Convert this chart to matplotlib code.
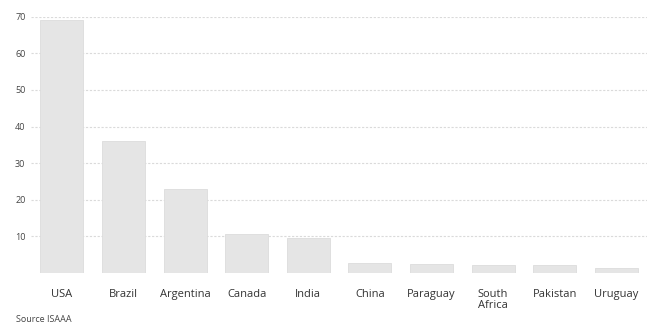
import matplotlib.pyplot as plt
import numpy as np

plt.rcParams['font.family'] = ['Open Sans', 'DejaVu Sans']

# GM crop area by country (million hectares)
countries = ['USA', 'Brazil', 'Argentina', 'Canada', 'India',
             'China', 'Paraguay', 'South\nAfrica', 'Pakistan', 'Uruguay']
area = [69.2, 36.0, 22.8, 10.5, 9.6, 2.6, 2.3, 2.2, 2.0, 1.3]
y_ticks = [10, 20, 30, 40, 50, 60, 70]

fig = plt.figure(figsize=(6.61, 3.24), dpi=100)
ax = fig.add_axes([0.047, 0.158, 0.932, 0.79])

x = np.arange(len(countries))
ax.grid(axis='y', color='#dadada', linestyle=(0, (2, 1.5)), linewidth=0.8, zorder=0)
ax.bar(x, area, width=0.7, color='#e5e5e5', edgecolor='#dcdcdc',
       linewidth=0.6, zorder=2)

ax.set_xlim(-0.5, len(countries) - 0.5)
ax.set_ylim(0, 70)
ax.set_yticks(y_ticks)
ax.set_yticklabels([str(v) for v in y_ticks], fontsize=6.5, color='#444444')
ax.set_xticks(x)
ax.set_xticklabels(countries, fontsize=8, color='#333333', linespacing=0.95)
ax.tick_params(axis='both', length=0)
ax.tick_params(axis='y', pad=4)
ax.tick_params(axis='x', pad=12)

for s in ax.spines.values():
    s.set_visible(False)

fig.text(0.024, 0.006, 'Source ISAAA', fontsize=6.5, color='#444444')

fig.savefig('out.png', dpi=100, facecolor='white')
